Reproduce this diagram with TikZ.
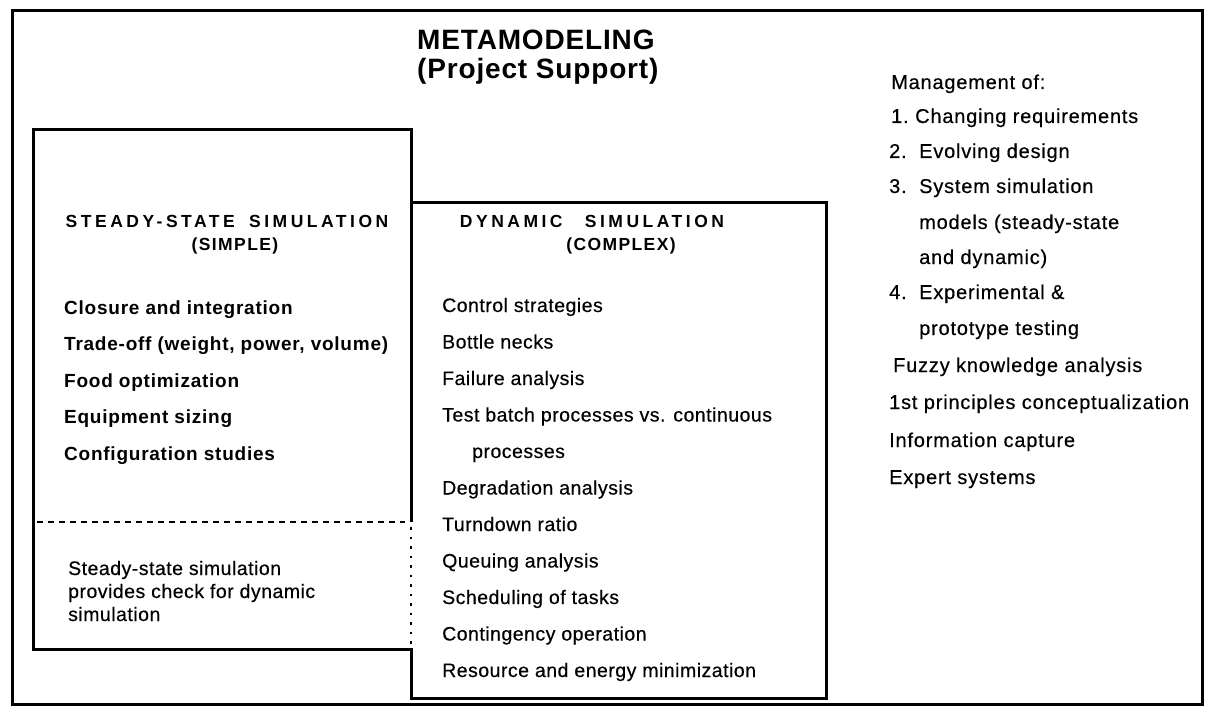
\documentclass[tikz,border=0pt]{standalone}
\usepackage{fontspec}
\setmainfont{Liberation Sans}
\newfontfamily\hdrfont{Liberation Sans}[LetterSpace=20]
\newfontfamily\subfont{Liberation Sans}[LetterSpace=8]
\newfontfamily\titlefont{Liberation Sans}[LetterSpace=3]
\newfontfamily\boldlistfont{Liberation Sans}[LetterSpace=4]
\newfontfamily\listfont{Liberation Sans}[LetterSpace=2.5, FakeBold=0.4]
\newfontfamily\sidefont{Liberation Sans}[LetterSpace=4, FakeBold=0.4]

\tikzset{
  boxline/.style={line width=3pt, line join=miter},
  dashline/.style={line width=2.6pt, dash pattern=on 6pt off 5pt},
  dotline/.style={line width=2.4pt, dash pattern=on 2.5pt off 7pt},
  txt/.style={inner sep=0pt, anchor=base west},
  titletext/.style={txt, font=\titlefont\fontsize{28}{28}\selectfont\bfseries},
  hdrtext/.style={inner sep=0pt, anchor=base, font=\hdrfont\fontsize{17.5}{20}\selectfont\bfseries},
  subtext/.style={inner sep=0pt, anchor=base, font=\subfont\fontsize{17.5}{20}\selectfont\bfseries},
  ssitem/.style={txt, font=\boldlistfont\fontsize{19}{22}\selectfont\bfseries},
  dyitem/.style={txt, font=\listfont\fontsize{19.5}{23}\selectfont},
  mgitem/.style={txt, font=\sidefont\fontsize{20}{24}\selectfont},
}

\begin{document}
\begin{tikzpicture}[x=1pt, y=-1pt]
  % page
  \fill[white] (0,0) rectangle (1209,722);
  \useasboundingbox (0,0) rectangle (1209,722);

  % outer frame
  \draw[boxline] (12,11) rectangle (1202,704);

  % corners of the two simulation boxes
  \coordinate (ssNW) at (33,130);
  \coordinate (ssNE) at (411,130);
  \coordinate (ssSW) at (33,649);
  \coordinate (ssSE) at (411,649);
  \coordinate (dyNW) at (411,202);
  \coordinate (dyNE) at (826,202);
  \coordinate (dySE) at (826,698);
  \coordinate (dySW) at (411,698);
  \coordinate (splitE) at (411,522);
  \coordinate (splitW) at (33,522);

  % solid outline of both boxes
  \draw[boxline] (splitE) -- (ssNE) -- (ssNW) -- (ssSW) -- (ssSE) -- (dySW) -- (dySE) -- (dyNE) -- (dyNW);
  % dashed divider and dotted shared edge
  \draw[dashline] ([xshift=4pt]splitW) -- ([xshift=-6pt]splitE);
  \draw[dotline] ([yshift=-5pt]splitE) -- ([yshift=4pt]ssSE);

  % title
  \node[titletext] (title1) at (417,50) {METAMODELING};
  \node[titletext] (title2) at (417,79) {(Project Support)};

  % steady-state box
  \node[hdrtext] (ssh) at (227,227) {STEADY-STATE\hspace{6pt} SIMULATION};
  \node[subtext] (sssub) at (235,250) {(SIMPLE)};
  \node[ssitem] (ss1) at (64,314) {Closure and integration};
  \node[ssitem] (ss2) at (64,350.5) {Trade-off (weight, power, volume)};
  \node[ssitem] (ss3) at (64,387) {Food optimization};
  \node[ssitem] (ss4) at (64,423.5) {Equipment sizing};
  \node[ssitem] (ss5) at (64,460) {Configuration studies};
  \node[dyitem] (ssn1) at (68,575) {Steady-state simulation};
  \node[dyitem] (ssn2) at (68,598) {provides check for dynamic};
  \node[dyitem] (ssn3) at (68,621) {simulation};

  % dynamic box
  \node[hdrtext] (dyh) at (592,227) {DYNAMIC\hspace{14pt} SIMULATION};
  \node[subtext] (dysub) at (621,250) {(COMPLEX)};
  \node[dyitem] (dy1) at (442,312) {Control strategies};
  \node[dyitem] (dy2) at (442,348.5) {Bottle necks};
  \node[dyitem] (dy3) at (442,385) {Failure analysis};
  \node[dyitem] (dy4) at (442,421.5) {Test batch processes vs. continuous};
  \node[dyitem] (dy5) at (472,458) {processes};
  \node[dyitem] (dy6) at (442,494.5) {Degradation analysis};
  \node[dyitem] (dy7) at (442,531) {Turndown ratio};
  \node[dyitem] (dy8) at (442,567.5) {Queuing analysis};
  \node[dyitem] (dy9) at (442,604) {Scheduling of tasks};
  \node[dyitem] (dy10) at (442,640.5) {Contingency operation};
  \node[dyitem] (dy11) at (442,677) {Resource and energy minimization};

  % management column
  \node[mgitem] (mg0) at (891,89) {Management of:};
  \node[mgitem] (mg1) at (891,123) {\makebox[24pt][l]{1.}Changing requirements};
  \node[mgitem] (mg2) at (889,158) {\makebox[30pt][l]{2.}Evolving design};
  \node[mgitem] (mg3) at (889,193) {\makebox[30pt][l]{3.}System simulation};
  \node[mgitem] (mg3b) at (919,229) {models (steady-state};
  \node[mgitem] (mg3c) at (919,264) {and dynamic)};
  \node[mgitem] (mg4) at (889,299) {\makebox[30pt][l]{4.}Experimental \&};
  \node[mgitem] (mg4b) at (919,335) {prototype testing};
  \node[mgitem] (mg5) at (893,372) {Fuzzy knowledge analysis};
  \node[mgitem] (mg6) at (889,409) {1st principles conceptualization};
  \node[mgitem] (mg7) at (889,447) {Information capture};
  \node[mgitem] (mg8) at (889,484) {Expert systems};
\end{tikzpicture}
\end{document}
